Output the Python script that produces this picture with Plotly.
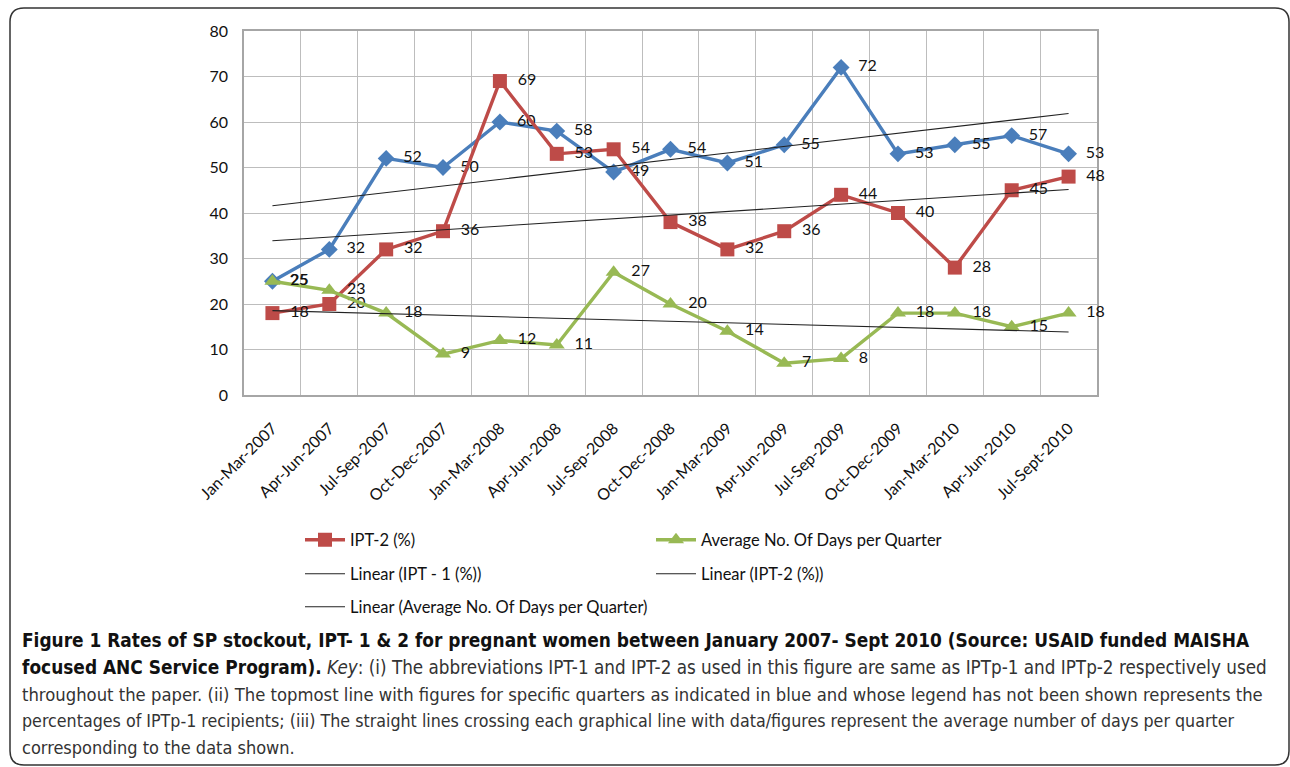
import numpy as np
import plotly.graph_objects as go

quarters = ["Jan-Mar-2007", "Apr-Jun-2007", "Jul-Sep-2007", "Oct-Dec-2007",
            "Jan-Mar-2008", "Apr-Jun-2008", "Jul-Sep-2008", "Oct-Dec-2008",
            "Jan-Mar-2009", "Apr-Jun-2009", "Jul-Sep-2009", "Oct-Dec-2009",
            "Jan-Mar-2010", "Apr-Jun-2010", "Jul-Sept-2010"]
ipt1 = [25, 32, 52, 50, 60, 58, 49, 54, 51, 55, 72, 53, 55, 57, 53]
ipt2 = [18, 20, 32, 36, 69, 53, 54, 38, 32, 36, 44, 40, 28, 45, 48]
days = [25, 23, 18, 9, 12, 11, 27, 20, 14, 7, 8, 18, 18, 15, 18]
y_ticks = [0, 10, 20, 30, 40, 50, 60, 70, 80]

W, H = 1290, 767
L, R, T, B = 244, 1097, 31, 395


def px(xp):
    return (xp - L) / (R - L)


def py(yp):
    return (B - yp) / (B - T)


x = np.arange(len(quarters))

BLUE = "#4A7EBB"
RED = "#BE4B48"
GREEN = "#98B954"
FONT = "Lato, Carlito, Liberation Sans, sans-serif"
LABEL_TPL = "\u2002%{y}"

fig = go.Figure()


def trend(vals):
    k, b = np.polyfit(x, np.array(vals, dtype=float), 1)
    return k * x + b


fig.add_trace(go.Scatter(
    x=x, y=ipt1, mode="lines+markers+text", name="IPT - 1 (%)",
    line=dict(color=BLUE, width=3.4),
    marker=dict(symbol="diamond", size=13, color=BLUE),
    texttemplate=LABEL_TPL, textposition="middle right",
    textfont=dict(family=FONT, size=16, color="#111"),
    showlegend=False, cliponaxis=False))

fig.add_trace(go.Scatter(
    x=x, y=ipt2, mode="lines+markers+text", name="IPT-2 (%)",
    line=dict(color=RED, width=3.4),
    marker=dict(symbol="square", size=14, color=RED),
    texttemplate=LABEL_TPL, textposition="middle right",
    textfont=dict(family=FONT, size=16, color="#111"),
    legend="legend", cliponaxis=False))

fig.add_trace(go.Scatter(
    x=x, y=days, mode="lines+markers+text", name="Average No. Of Days per Quarter",
    line=dict(color=GREEN, width=3.4),
    marker=dict(symbol="triangle-up", size=14, color=GREEN),
    texttemplate=LABEL_TPL, textposition="middle right",
    textfont=dict(family=FONT, size=16, color="#111"),
    legend="legend", cliponaxis=False))

fig.add_trace(go.Scatter(
    x=x, y=trend(ipt1), mode="lines", name="Linear (IPT - 1 (%))",
    line=dict(color="#222", width=1.1), legend="legend2"))
fig.add_trace(go.Scatter(
    x=x, y=trend(ipt2), mode="lines", name="Linear (IPT-2 (%))",
    line=dict(color="#222", width=1.1), legend="legend2"))
fig.add_trace(go.Scatter(
    x=x, y=trend(days), mode="lines", name="Linear (Average No. Of Days per Quarter)",
    line=dict(color="#222", width=1.1), legend="legend3"))

leg_common = dict(orientation="h", xanchor="left", yanchor="middle",
                  entrywidth=296, entrywidthmode="pixels", itemwidth=40,
                  font=dict(family=FONT, size=16.5, color="#111"),
                  bgcolor="rgba(0,0,0,0)", traceorder="normal")

fig.update_layout(
    width=W, height=H,
    margin=dict(l=L, r=W - R, t=T, b=H - B),
    paper_bgcolor="white", plot_bgcolor="white",
    font=dict(family=FONT, color="#111"),
    legend=dict(x=px(300), y=py(540), **leg_common),
    legend2=dict(x=px(300), y=py(574), **leg_common),
    legend3=dict(x=px(300), y=py(607), **leg_common),
    xaxis=dict(range=[-0.5, len(quarters) - 0.5], tickvals=list(x), ticktext=quarters,
               tickangle=-45, showgrid=False, zeroline=False, layer="below traces",
               showline=True, mirror=True, linecolor="#A6A6A6", linewidth=1.5,
               ticks="", ticklabelstandoff=16,
               tickfont=dict(family=FONT, size=16, color="#111"),
               minor=dict(tick0=0.5, dtick=1, showgrid=True, gridcolor="#BDBDBD", gridwidth=1.2)),
    yaxis=dict(range=[0, 80], tickvals=y_ticks, showgrid=True, gridcolor="#BDBDBD", gridwidth=1.2,
               zeroline=False, showline=True, mirror=True, linecolor="#A6A6A6", linewidth=1.5,
               layer="below traces", ticks="", ticklabelstandoff=11,
               tickfont=dict(family=FONT, size=16, color="#111")),
)

# rounded frame around the figure
r = 14
x0, x1, y0, y1 = 10, 1289, 8, 765
path = (f"M {px(x0)},{py(y1 - r)} L {px(x0)},{py(y0 + r)} "
        f"Q {px(x0)},{py(y0)} {px(x0 + r)},{py(y0)} "
        f"L {px(x1 - r)},{py(y0)} Q {px(x1)},{py(y0)} {px(x1)},{py(y0 + r)} "
        f"L {px(x1)},{py(y1 - r)} Q {px(x1)},{py(y1)} {px(x1 - r)},{py(y1)} "
        f"L {px(x0 + r)},{py(y1)} Q {px(x0)},{py(y1)} {px(x0)},{py(y1 - r)}")
fig.add_shape(type="path", path=path, xref="paper", yref="paper",
              line=dict(color="#333", width=1.5), layer="above")

CAP_FONT = "Liberation Sans Narrow, DejaVu Sans Condensed, sans-serif"
B_SZ = 18.9


def bold(s):
    return f"<b><span style='font-size:{B_SZ}px;color:#111'>{s}</span></b>"


def reg(s, sz):
    return f"<span style='font-size:{sz}px'>{s}</span>"


def ital(s, sz):
    return f"<i><span style='font-size:{sz}px'>{s}</span></i>"


caption = [
    bold("Figure 1 Rates of SP stockout, IPT- 1 &amp; 2 for pregnant women between January 2007- Sept 2010 (Source: USAID funded MAISHA"),
    bold("focused ANC Service Program).") + reg(" ", 18.7) + ital("Key", 18.7)
    + reg(": (i) The abbreviations IPT-1 and IPT-2 as used in this figure are same as IPTp-1 and IPTp-2 respectively used", 18.7),
    reg("throughout the paper. (ii) The topmost line with figures for specific quarters as indicated in blue and whose legend has not been shown represents the", 18.3),
    reg("percentages of IPTp-1 recipients; (iii) The straight lines crossing each graphical line with data/figures represent the average number of days per quarter", 17.7),
    reg("corresponding to the data shown.", 18.0),
]
cap_y = [640, 667, 694, 721, 747]
for line, yy in zip(caption, cap_y):
    fig.add_annotation(text=line, x=px(20), y=py(yy), xref="paper", yref="paper",
                       xanchor="left", yanchor="middle", showarrow=False, align="left",
                       font=dict(family=CAP_FONT, size=18.3, color="#333"))

fig.write_html("out.html", config={"displayModeBar": False},
               post_script="document.body.style.margin='0';document.body.style.overflow='hidden';")
